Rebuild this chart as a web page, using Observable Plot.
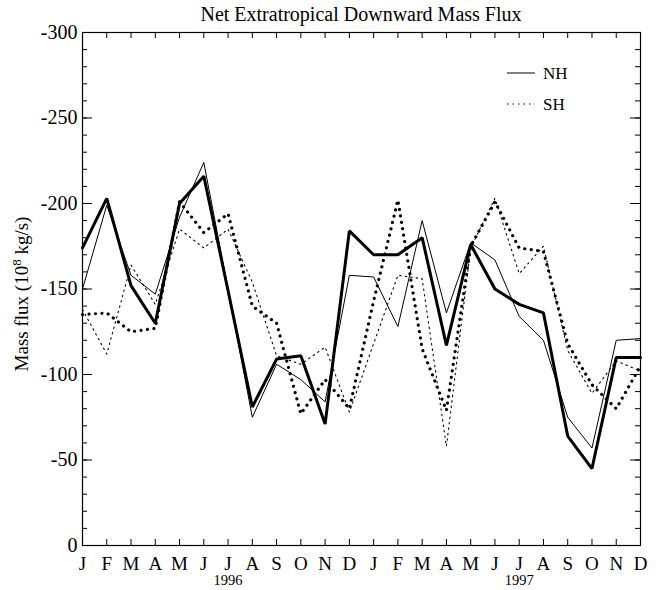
<!DOCTYPE html>
<html>
<head>
<meta charset="utf-8">
<script src="https://cdn.jsdelivr.net/npm/d3@7"></script>
<script src="https://cdn.jsdelivr.net/npm/@observablehq/plot@0.6"></script>
<style>
  html, body { margin: 0; padding: 0; background: #fff; }
  #chart { width: 663px; height: 590px; }
  #chart svg, #chart svg text { font-family: "Liberation Serif", serif !important; }
</style>
</head>
<body>
<div id="chart"></div>
<script>
// ---- data ----
const monthLabels = ["J","F","M","A","M","J","J","A","S","O","N","D",
                     "J","F","M","A","M","J","J","A","S","O","N","D"];
const yearLabels = [{i: 6, label: "1996"}, {i: 18, label: "1997"}];
const yMajorTicks = [0, -50, -100, -150, -200, -250, -300];
const yMinorTicks = d3.range(0, -301, -10);

const nhThick = [-174, -203, -152, -130, -200, -216, -149, -81, -109, -111, -71, -184,
                 -170, -170, -180, -117, -176, -150, -141, -136, -64, -45, -110, -110];
const nhThin  = [-150, -199, -158, -147, -192, -224, -150, -75, -106, -97, -84, -158,
                 -157, -128, -190, -136, -177, -167, -134, -120, -75, -57, -120, -121];
const shThick = [-135, -136, -125, -127, -201, -183, -194, -140, -130, -77, -97, -80,
                 -143, -202, -115, -79, -175, -201, -174, -172, -118, -94, -80, -105];
const shThin  = [-138, -112, -164, -141, -185, -174, -185, -154, -111, -106, -116, -78,
                 -118, -158, -156, -58, -174, -203, -159, -175, -114, -89, -108, -102];

const idx = d3.range(monthLabels.length);
const font = "Liberation Serif";

const W = 663, H = 590, mL = 82, mR = 23, mT = 32, mB = 45;
const fw = W - mL - mR, fh = H - mT - mB;

const chart = Plot.plot({
  width: W, height: H,
  marginLeft: mL, marginRight: mR, marginTop: mT, marginBottom: mB,
  style: "font-family: 'Liberation Serif', serif; background: #fff; color: #000;",
  x: {type: "linear", domain: [0, 23], axis: null},
  y: {domain: [0, -300], axis: null},
  marks: [
    // minor y ticks (inward), left and right
    Plot.tickY(yMinorTicks, {y: d => d, insetRight: fw - 5, stroke: "#000", strokeWidth: 1}),
    Plot.tickY(yMinorTicks, {y: d => d, insetLeft: fw - 5, stroke: "#000", strokeWidth: 1}),
    // major y ticks
    Plot.tickY(yMajorTicks, {y: d => d, insetRight: fw - 10, stroke: "#000", strokeWidth: 1}),
    Plot.tickY(yMajorTicks, {y: d => d, insetLeft: fw - 10, stroke: "#000", strokeWidth: 1}),
    // x ticks bottom and top
    Plot.tickX(idx, {x: d => d, insetTop: fh - 6, stroke: "#000", strokeWidth: 1}),
    Plot.tickX(idx, {x: d => d, insetBottom: fh - 6, stroke: "#000", strokeWidth: 1}),
    Plot.frame({stroke: "#000", strokeWidth: 1.2}),
    // y tick labels
    Plot.text(yMajorTicks, {y: d => d, text: d => String(d), frameAnchor: "left",
      textAnchor: "end", dx: -5, fontSize: 20, fontFamily: font, fill: "#000"}),
    // month labels
    Plot.text(idx, {x: d => d, text: d => monthLabels[d], frameAnchor: "bottom",
      dy: 24, fontSize: 19, fontFamily: font, fill: "#000"}),
    // year labels
    Plot.text(yearLabels, {x: "i", text: "label", frameAnchor: "bottom",
      dy: 39, fontSize: 14.5, fontFamily: font, fill: "#000"}),
    // series
    Plot.line(idx, {x: d => d, y: d => shThin[d], stroke: "#000", strokeWidth: 1.1,
      strokeDasharray: "1.5 4"}),
    Plot.line(idx, {x: d => d, y: d => shThick[d], stroke: "#000", strokeWidth: 3.2,
      strokeDasharray: "0.01 6.5", strokeLinecap: "round"}),
    Plot.line(idx, {x: d => d, y: d => nhThin[d], stroke: "#000", strokeWidth: 1}),
    Plot.line(idx, {x: d => d, y: d => nhThick[d], stroke: "#000", strokeWidth: 3,
      strokeLinejoin: "miter"})
  ]
});

document.getElementById("chart").appendChild(chart);

// title, y label, legend
const svg = d3.select(chart);
svg.append("text")
  .attr("x", mL + fw / 2).attr("y", 21)
  .attr("text-anchor", "middle")
  .attr("font-family", font).attr("font-size", 20).attr("fill", "#000")
  .text("Net Extratropical Downward Mass Flux");

const yl = svg.append("text")
  .attr("transform", `translate(28,294) rotate(-90)`)
  .attr("text-anchor", "middle")
  .attr("font-family", font).attr("font-size", 19).attr("fill", "#000");
yl.append("tspan").text("Mass flux (10");
yl.append("tspan").attr("font-size", 13).attr("dy", -7).text("8");
yl.append("tspan").attr("dy", 7).text(" kg/s)");

const legendItems = [
  {label: "NH", dash: null, y: 73},
  {label: "SH", dash: "1.5 4", y: 104}
];
const lg = svg.append("g");
legendItems.forEach(it => {
  lg.append("line")
    .attr("x1", 507).attr("x2", 535).attr("y1", it.y).attr("y2", it.y)
    .attr("stroke", "#000").attr("stroke-width", 1)
    .attr("stroke-dasharray", it.dash);
  lg.append("text")
    .attr("x", 543).attr("y", it.y + 6)
    .attr("text-anchor", "start")
    .attr("font-family", font).attr("font-size", 17).attr("fill", "#000")
    .text(it.label);
});
</script>
</body>
</html>
